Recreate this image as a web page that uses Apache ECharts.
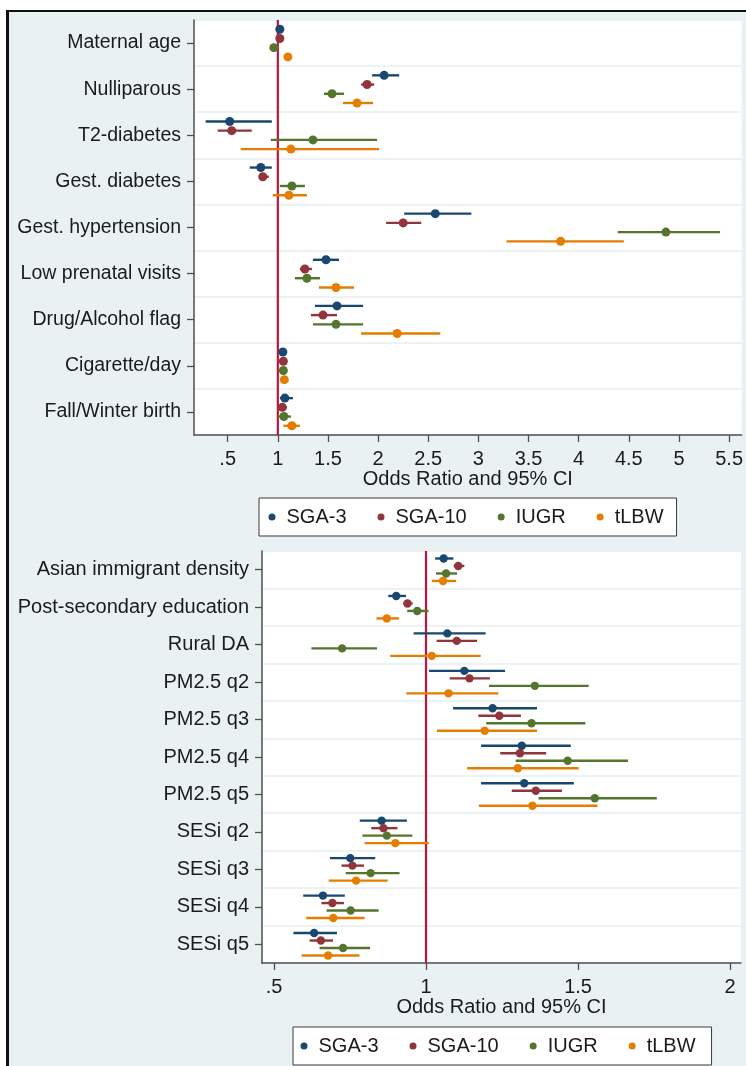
<!DOCTYPE html>
<html>
<head>
<meta charset="utf-8">
<script src="https://cdn.jsdelivr.net/npm/echarts@6/dist/echarts.min.js"></script>
<style>
  html, body { margin: 0; padding: 0; background: #ffffff; }
  #chart { width: 746px; height: 1066px; }
</style>
</head>
<body>
<div id="chart"></div>
<script>
// Covariates shown in each panel (top to bottom)
const topVars = ['Maternal age', 'Nulliparous', 'T2-diabetes', 'Gest. diabetes', 'Gest. hypertension',
  'Low prenatal visits', 'Drug/Alcohol flag', 'Cigarette/day', 'Fall/Winter birth'];
const bottomVars = ['Asian immigrant density', 'Post-secondary education', 'Rural DA', 'PM2.5 q2',
  'PM2.5 q3', 'PM2.5 q4', 'PM2.5 q5', 'SESi q2', 'SESi q3', 'SESi q4', 'SESi q5'];

// Outcome names and their colours
const outcomes = ['SGA-3', 'SGA-10', 'IUGR', 'tLBW'];
const outcomeColors = ['#1a476f', '#90353b', '#55752f', '#e37e00'];

// Odds ratios with 95% CI: [OR, lower, upper], one row per covariate
const topSGA3 = [[1.02, 1.01, 1.03], [2.06, 1.94, 2.21], [0.52, 0.28, 0.94], [0.83, 0.72, 0.94],
  [2.57, 2.26, 2.93], [1.48, 1.35, 1.61], [1.59, 1.37, 1.85], [1.05, 1.04, 1.06], [1.07, 1.02, 1.15]];
const topSGA10 = [[1.02, 1.01, 1.03], [1.89, 1.83, 1.96], [0.54, 0.40, 0.74], [0.85, 0.81, 0.91],
  [2.25, 2.08, 2.43], [1.27, 1.22, 1.34], [1.45, 1.33, 1.59], [1.055, 1.045, 1.065], [1.045, 1.005, 1.09]];
const topIUGR = [[0.96, 0.95, 0.97], [1.54, 1.46, 1.66], [1.35, 0.93, 1.99], [1.14, 1.02, 1.27],
  [4.87, 4.39, 5.41], [1.29, 1.17, 1.42], [1.58, 1.35, 1.85], [1.055, 1.045, 1.065], [1.06, 1.005, 1.13]];
const topTLBW = [[1.10, 1.09, 1.11], [1.79, 1.65, 1.95], [1.13, 0.63, 2.01], [1.11, 0.95, 1.29],
  [3.82, 3.28, 4.45], [1.58, 1.41, 1.76], [2.19, 1.83, 2.62], [1.065, 1.055, 1.075], [1.14, 1.055, 1.22]];

const botSGA3 = [[1.058, 1.03, 1.09], [0.902, 0.876, 0.934], [1.07, 0.959, 1.196], [1.126, 1.01, 1.26],
  [1.219, 1.089, 1.365], [1.315, 1.181, 1.476], [1.323, 1.181, 1.486], [0.854, 0.782, 0.937],
  [0.751, 0.684, 0.833], [0.661, 0.596, 0.733], [0.632, 0.564, 0.707]];
const botSGA10 = [[1.106, 1.091, 1.126], [0.939, 0.926, 0.956], [1.101, 1.035, 1.168], [1.143, 1.078, 1.21],
  [1.241, 1.172, 1.312], [1.309, 1.244, 1.395], [1.361, 1.282, 1.447], [0.86, 0.82, 0.906],
  [0.758, 0.722, 0.796], [0.692, 0.656, 0.73], [0.654, 0.617, 0.694]];
const botIUGR = [[1.066, 1.033, 1.102], [0.971, 0.938, 1.008], [0.724, 0.623, 0.839], [1.358, 1.207, 1.535],
  [1.347, 1.198, 1.524], [1.466, 1.295, 1.664], [1.555, 1.37, 1.759], [0.871, 0.791, 0.955],
  [0.818, 0.736, 0.913], [0.752, 0.673, 0.844], [0.727, 0.65, 0.816]];
const botTLBW = [[1.056, 1.019, 1.099], [0.871, 0.837, 0.911], [1.019, 0.882, 1.18], [1.074, 0.935, 1.238],
  [1.193, 1.036, 1.365], [1.302, 1.135, 1.502], [1.35, 1.174, 1.564], [0.899, 0.798, 1.009],
  [0.77, 0.68, 0.874], [0.695, 0.606, 0.798], [0.678, 0.591, 0.781]];

// Tick positions on the odds-ratio axes
const topTicks = [0.5, 1, 1.5, 2, 2.5, 3, 3.5, 4, 4.5, 5, 5.5];
const bottomTicks = [0.5, 1, 1.5, 2];
const nullValue = 1;

const FONT = "'Liberation Sans', Arial, sans-serif";
const TEXT = '#1b1b1b';
const AXIS = '#4f4f4f';
const GRIDLINE = '#e7eef1';
const BG = '#e9f1f3';

// vertical offset of each outcome within a covariate band (fraction of band)
const offsets = [-0.3, -0.1, 0.1, 0.3];

function tickText(v) {
  return v < 1 ? String(v).replace(/^0/, '') : String(v);
}

function ciRenderer(offset, radius, lineWidth) {
  return function (params, api) {
    const cat = api.value(3);
    const band = api.size([0, 1])[1];
    const p = api.coord([api.value(0), cat]);
    const a = api.coord([api.value(1), cat]);
    const b = api.coord([api.value(2), cat]);
    const y = p[1] + offset * band;
    const color = api.visual('color');
    return {
      type: 'group',
      children: [
        { type: 'line', shape: { x1: a[0], y1: y, x2: b[0], y2: y },
          style: { stroke: color, lineWidth: lineWidth } },
        { type: 'circle', shape: { cx: p[0], cy: y, r: radius },
          style: { fill: color } }
      ]
    };
  };
}

function refLineRenderer(params, api) {
  const cs = params.coordSys;
  const x = api.coord([api.value(0), 0])[0];
  return {
    type: 'line',
    shape: { x1: x, y1: cs.y, x2: x, y2: cs.y + cs.height },
    style: { stroke: '#c0143c', lineWidth: 2.2 }
  };
}

function rows(values) {
  return values.map((r, i) => [r[0], r[1], r[2], i]);
}

const panels = [
  { vars: topVars, sets: [topSGA3, topSGA10, topIUGR, topTLBW], radius: 4.5, lw: 2.4 },
  { vars: bottomVars, sets: [botSGA3, botSGA10, botIUGR, botTLBW], radius: 4.2, lw: 2.4 }
];

const series = [];
panels.forEach((panel, pi) => {
  series.push({
    type: 'custom', name: 'OR = 1', xAxisIndex: pi, yAxisIndex: pi, z: 1,
    renderItem: refLineRenderer, data: [[nullValue, 0]], encode: { x: 0, y: 1 }, silent: true
  });
  panel.sets.forEach((set, si) => {
    series.push({
      type: 'custom', name: outcomes[si], xAxisIndex: pi, yAxisIndex: pi, z: 2,
      itemStyle: { color: outcomeColors[si] },
      renderItem: ciRenderer(offsets[si], panel.radius, panel.lw),
      data: rows(set), encode: { x: [0, 1, 2], y: 3 }
    });
  });
});

function xAxisFor(gridIndex, min, max, ticks) {
  return {
    gridIndex: gridIndex, type: 'value', min: min, max: max,
    axisLine: { show: true, onZero: false, lineStyle: { color: AXIS, width: 1.5 } },
    axisTick: { show: true, customValues: ticks, length: 7, lineStyle: { color: AXIS, width: 1.3 } },
    axisLabel: { customValues: ticks, formatter: tickText, fontSize: 20, color: TEXT, margin: 14, fontFamily: FONT },
    splitLine: { show: false },
    name: 'Odds Ratio and 95% CI', nameLocation: 'middle', nameGap: 33,
    nameTextStyle: { fontSize: 20, color: TEXT, fontFamily: FONT }
  };
}

function yAxisFor(gridIndex, vars, fontSize) {
  return {
    gridIndex: gridIndex, type: 'category', inverse: true, data: vars,
    axisLine: { show: true, lineStyle: { color: AXIS, width: 1.5 } },
    axisTick: { show: true, alignWithLabel: true, interval: 0, length: 7, lineStyle: { color: AXIS, width: 1.3 } },
    axisLabel: { interval: 0, fontSize: fontSize, color: TEXT, margin: 13, fontFamily: FONT },
    splitLine: { show: true, interval: 0, lineStyle: { color: GRIDLINE, width: 1.5 } }
  };
}

function legendFor(left, top, padLeft, padRight) {
  return {
    left: left, top: top, orient: 'horizontal',
    data: outcomes.map(n => ({ name: n, icon: 'circle' })),
    itemWidth: 7, itemHeight: 7, itemGap: 31,
    padding: [9, padRight, 9, padLeft],
    backgroundColor: '#ffffff', borderColor: '#3a3a3a', borderWidth: 1,
    textStyle: { fontSize: 20, color: TEXT, fontFamily: FONT, padding: [0, 0, 0, 6] },
    selectedMode: false
  };
}

const option = {
  animation: false,
  textStyle: { fontFamily: FONT },
  graphic: [
    { type: 'rect', z: -100, shape: { x: 8, y: 11, width: 740, height: 1060 }, style: { fill: BG } },
    { type: 'line', z: 100, shape: { x1: 7.5, y1: 10, x2: 7.5, y2: 1066 }, style: { stroke: '#111', lineWidth: 3 } },
    { type: 'line', z: 100, shape: { x1: 6, y1: 11, x2: 746, y2: 11 }, style: { stroke: '#111', lineWidth: 2 } }
  ],
  grid: [
    { left: 194, top: 20, width: 548, height: 415, show: true, backgroundColor: '#ffffff', borderWidth: 0 },
    { left: 262, top: 551, width: 479, height: 412, show: true, backgroundColor: '#ffffff', borderWidth: 0 }
  ],
  xAxis: [
    xAxisFor(0, 0.164, 5.625, topTicks),
    xAxisFor(1, 0.4605, 2.036, bottomTicks)
  ],
  yAxis: [
    yAxisFor(0, topVars, 19.5),
    yAxisFor(1, bottomVars, 20)
  ],
  legend: [legendFor(259, 498, 9.5, 13), legendFor(293, 1027, 7.5, 16)],
  series: series
};

const chart = echarts.init(document.getElementById('chart'), null, { renderer: 'canvas' });
chart.setOption(option);
</script>
</body>
</html>
